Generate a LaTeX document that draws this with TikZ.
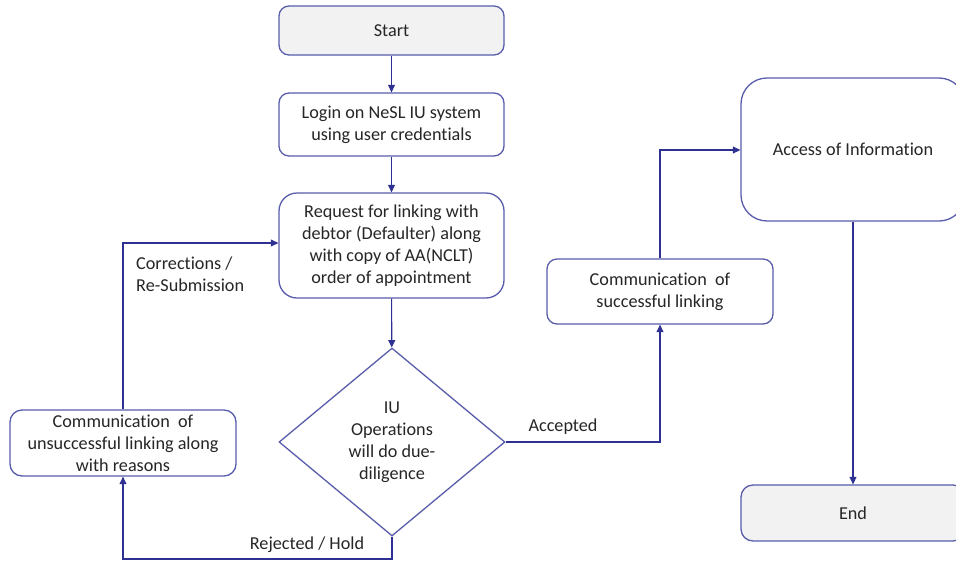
\documentclass[tikz,border=0pt]{standalone}
\usepackage{fontspec}
\setmainfont{Carlito}[Ligatures={NoCommon}]
\usetikzlibrary{arrows.meta,shapes.geometric}
\definecolor{lineblue}{RGB}{46,49,146}
\definecolor{boxblue}{RGB}{88,92,170}
\definecolor{startgray}{RGB}{242,242,242}
\begin{document}
\begin{tikzpicture}[x=1pt,y=-1pt,
  every node/.style={font=\fontsize{18.2}{22}\selectfont, text=black!85},
  box/.style={draw=boxblue, line width=1.3pt, rounded corners=10pt, align=center, inner sep=0pt, fill=white},
  termbox/.style={box, fill=startgray},
  conn/.style={draw=lineblue, line width=1.1pt, -{Triangle[length=7.5pt,width=7pt]}},
  lbl/.style={inner sep=0pt}
]
\useasboundingbox (0,0) rectangle (956,560);
% nodes
\node[termbox, minimum width=225pt, minimum height=49pt] (start) at (391.5,30.5) {Start};
\node[box, minimum width=225pt, minimum height=63pt] (login) at (391.5,124.5) {Login on NeSL IU system\\using user credentials};
\node[box, rounded corners=18pt, minimum width=225pt, minimum height=105pt] (req) at (391.5,245.5) {Request for linking with\\debtor (Defaulter) along\\with copy of AA(NCLT)\\order of appointment};
\node[diamond, draw=boxblue, line width=1.3pt, inner sep=0pt, aspect=1, minimum width=226pt, minimum height=188pt, align=center] (dec) at (392,442) {IU\\Operations\\will do due-\\diligence};
\node[box, rounded corners=12pt, minimum width=226pt, minimum height=66pt] (unsucc) at (123,443) {Communication~ of\\unsuccessful linking along\\with reasons};
\node[box, minimum width=226pt, minimum height=65pt] (succ) at (660,291.5) {Communication~ of\\successful linking};
\node[box, rounded corners=26pt, minimum width=224pt, minimum height=143pt] (access) at (853,149.5) {Access of Information};
\node[termbox, rounded corners=12pt, minimum width=224pt, minimum height=56pt] (end) at (853,513) {End};
% helper coordinates
\coordinate (accR) at (660,442);
\coordinate (succT) at (660,150);
\coordinate (rejB) at (392,559);
\coordinate (rejL) at (123,559);
\coordinate (corT) at (123,243);
% connectors
\draw[conn] (start) -- (login);
\draw[conn] (login) -- (req);
\draw[conn] (req) -- (dec);
\draw[conn] (dec.east) -- (accR) -- (succ.south);
\draw[conn] (succ.north) -- (succT) -- (access.west |- succT);
\draw[conn] (access) -- (end);
\draw[conn] (dec.south) -- (rejB) -- (rejL) -- (unsucc.south);
\draw[conn] (unsucc.north) -- (corT) -- (req.west |- corT);
% labels
\node[lbl] (acc) at (563,427) {Accepted};
\node[lbl] (rej) at (307,545) {Rejected / Hold};
\node[lbl, anchor=west, align=left] (cor) at (136,274) {Corrections /\\Re-Submission};
\end{tikzpicture}
\end{document}
